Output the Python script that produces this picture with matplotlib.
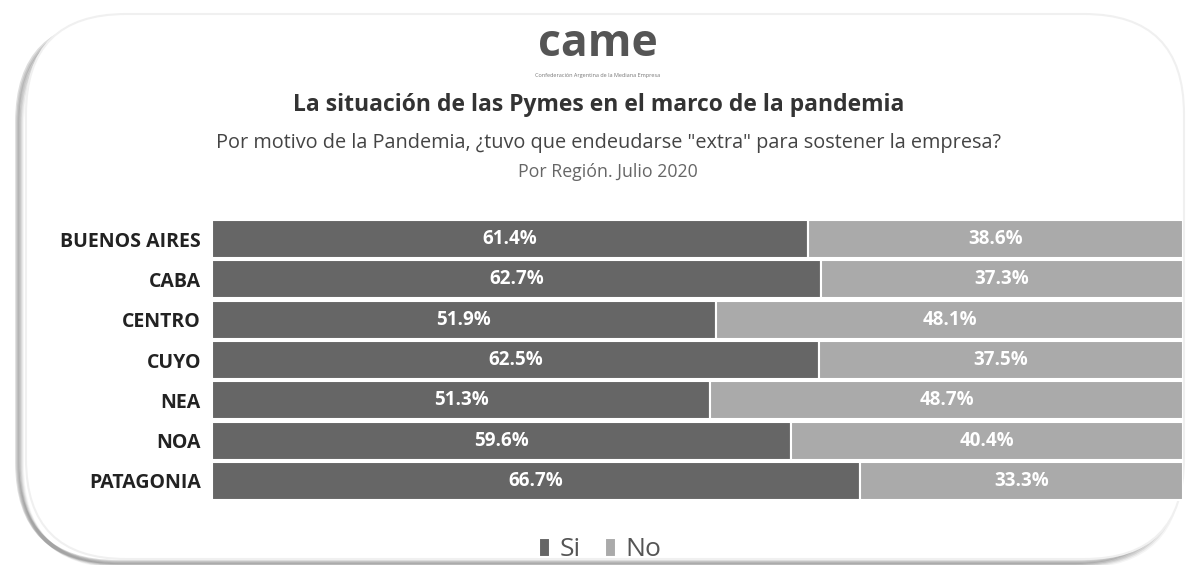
import matplotlib
matplotlib.use("Agg")
import matplotlib.pyplot as plt
from matplotlib.patches import FancyBboxPatch, Rectangle

regions = ["BUENOS AIRES", "CABA", "CENTRO", "CUYO", "NEA", "NOA", "PATAGONIA"]
si = [61.4, 62.7, 51.9, 62.5, 51.3, 59.6, 66.7]
no = [38.6, 37.3, 48.1, 37.5, 48.7, 40.4, 33.3]
series_names = ["Si", "No"]

plt.rcParams['font.family'] = ['Open Sans', 'DejaVu Sans']

W, H = 1194, 565
fig = plt.figure(figsize=(W / 100, H / 100), dpi=100)
fig.patch.set_facecolor('white')

# rounded frame with shadow
bg = fig.add_axes([0, 0, 1, 1], zorder=-10)
bg.set_xlim(0, W); bg.set_ylim(H, 0); bg.axis('off')
for i, a in enumerate([0.04, 0.06, 0.08, 0.10, 0.13]):
    bg.add_patch(FancyBboxPatch((22 - i * 1.2, 22 + 4 - i * 1.0), 1158, 540,
                                boxstyle="round,pad=0,rounding_size=100",
                                fc='none', ec=(0, 0, 0, a), lw=3))
bg.add_patch(FancyBboxPatch((26, 14), 1158, 545, boxstyle="round,pad=0,rounding_size=100",
                            fc='white', ec=(0.94, 0.94, 0.94), lw=1.5))

# logo approximation
fig.text(598 / W, 1 - 44 / H, "came", ha='center', va='center', fontsize=32,
         fontweight='bold', color='#555555')
fig.text(598 / W, 1 - 76 / H, "Confederación Argentina de la Mediana Empresa", ha='center',
         va='center', fontsize=4, color='#777777')

fig.text(599 / W, 1 - 105 / H, "La situación de las Pymes en el marco de la pandemia",
         ha='center', va='center', fontsize=16.5, fontweight='bold', color='#333333')
fig.text(609 / W, 1 - 143 / H,
         'Por motivo de la Pandemia, ¿tuvo que endeudarse "extra" para sostener la empresa?',
         ha='center', va='center', fontsize=14.3, color='#444444')
fig.text(608 / W, 1 - 172 / H, "Por Región. Julio 2020", ha='center', va='center',
         fontsize=12.8, color='#666666')

ax = fig.add_axes([212 / W, 1 - 501 / H, (1183 - 212) / W, (501 - 219) / H])
ax.set_facecolor('none')
y = list(range(len(regions)))
c_si, c_no = '#666666', '#aaaaaa'
ax.barh(y, si, height=0.94, color=c_si, edgecolor='white', linewidth=1.5, label=series_names[0])
ax.barh(y, no, left=si, height=0.94, color=c_no, edgecolor='white', linewidth=1.5, label=series_names[1])
for i in y:
    ax.text(si[i] / 2, i, f"{si[i]:.1f}%", ha='center', va='center', color='white',
            fontsize=13.5, fontweight='bold')
    ax.text(si[i] + no[i] / 2, i, f"{no[i]:.1f}%", ha='center', va='center', color='white',
            fontsize=13.5, fontweight='bold')
ax.set_xlim(0, 100)
ax.set_ylim(len(regions) - 0.5, -0.5)
ax.set_yticks(y)
ax.set_yticklabels(regions, fontsize=14, fontweight='bold', color='#222222')
ax.tick_params(axis='y', length=0, pad=8)
ax.set_xticks([])
for s in ax.spines.values():
    s.set_visible(False)

leg = fig.legend(handles=[ax.containers[0], ax.containers[1]],
                 labels=series_names, loc='center', bbox_to_anchor=(600 / W, 1 - 550 / H),
                 ncol=2, frameon=False, fontsize=19, handlelength=0.45, handleheight=0.7,
                 handletextpad=0.35, columnspacing=0.9, labelcolor='#555555')

fig.savefig("out.png", dpi=100, facecolor='white')
